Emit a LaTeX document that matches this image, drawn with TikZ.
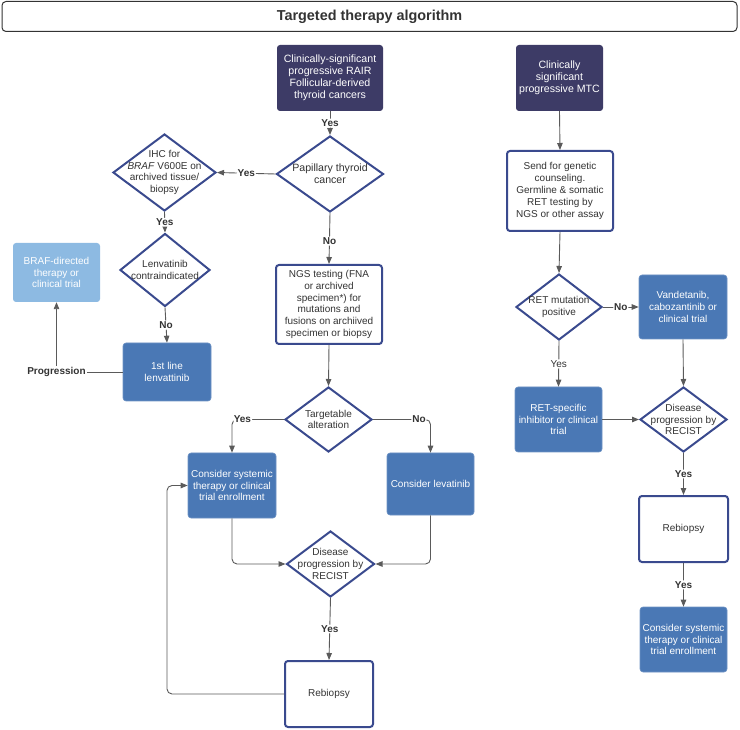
\documentclass[tikz,border=0pt]{standalone}
\usepackage{fontspec}
\setmainfont{Liberation Sans}
\usetikzlibrary{shapes.geometric,arrows.meta}
\definecolor{navy}{HTML}{3D3B66}
\definecolor{midblue}{HTML}{4A78B5}
\definecolor{lightblue}{HTML}{8DBAE2}
\definecolor{borderblue}{HTML}{3A4A8E}
\definecolor{linegray}{HTML}{5A5A5A}
\definecolor{txtdark}{HTML}{333333}
\newcommand\nodefont{\fontsize{10}{11.8}\selectfont}
\newcommand\bigfont{\fontsize{10.6}{11.9}\selectfont}
\tikzset{
  base/.style={rectangle, rounded corners=3pt, inner sep=0pt, align=center, font=\nodefont},
  navybox/.style={base, fill=navy, text=white},
  bluebox/.style={base, fill=midblue, draw=midblue!80!white, line width=0.6pt, text=white},
  lightbox/.style={base, fill=lightblue, text=white},
  whitebox/.style={base, fill=white, draw=borderblue, line width=2pt, text=txtdark},
  dia/.style={diamond, draw=borderblue, line width=2pt, fill=white, inner sep=0pt},
  dtext/.style={align=center, font=\nodefont, text=txtdark, inner sep=0pt},
  conn/.style={draw=linegray, line width=0.9pt, -{Triangle[length=7pt,width=5.5pt]}, rounded corners=5pt},
  lbl/.style={fill=white, inner sep=1pt, text=txtdark, font=\nodefont\bfseries},
  lblr/.style={fill=white, inner sep=1pt, text=txtdark, font=\nodefont},
}
\begin{document}
\begin{tikzpicture}[x=1pt,y=-1pt]
\useasboundingbox (0,0) rectangle (740,730);
% title
\node[draw=txtdark, line width=1pt, rounded corners=4pt, minimum width=735pt, minimum height=30pt, inner sep=0pt, font=\fontsize{14.4}{16}\selectfont\bfseries, text=txtdark] (title) at (369.5,16.5) {Targeted therapy algorithm};

% left / center column
\node[navybox, minimum width=106pt, minimum height=66pt, font=\bigfont] (top) at (330,78) {Clinically-significant\\progressive RAIR\\Follicular-derived\\thyroid cancers};
\node[dia, minimum width=107pt, minimum height=76pt] (pap) at (330,174) {};
\node[dtext, font=\bigfont] at (pap) {Papillary thyroid\\cancer};
\node[dia, minimum width=103pt, minimum height=77pt] (ihc) at (164.5,172.5) {};
\node[dtext] at (ihc) {IHC for\\\textit{BRAF} V600E on\\archived tissue/\\biopsy};
\node[dia, minimum width=90pt, minimum height=73pt] (len) at (165,270) {};
\node[dtext] at (len) {Lenvatinib\\contraindicated};
\node[bluebox, minimum width=88pt, minimum height=58pt] (lenv) at (167,372) {1st line\\lenvattinib};
\node[lightbox, minimum width=87pt, minimum height=59pt] (braf) at (56.5,272.5) {BRAF-directed\\therapy or\\clinical trial};
\node[whitebox, minimum width=106pt, minimum height=79pt] (ngs) at (329,304.5) {NGS testing (FNA\\or archived\\specimen*) for\\mutations and\\fusions on archiived\\specimen or biopsy};
\node[dia, minimum width=87pt, minimum height=65pt] (tgt) at (328.5,419.5) {};
\node[dtext] at (tgt) {Targetable\\alteration};
\node[bluebox, minimum width=88pt, minimum height=65pt] (sys) at (232,485.5) {Consider systemic\\therapy or clinical\\trial enrollment};
\node[bluebox, minimum width=87pt, minimum height=62pt] (lev) at (430.5,484) {Consider levatinib};
\node[dia, minimum width=88pt, minimum height=66pt] (dis) at (330.5,564) {};
\node[dtext] at (dis) {Disease\\progression by\\RECIST};
\node[whitebox, minimum width=88pt, minimum height=66pt] (reb) at (329,694) {Rebiopsy};

% right column
\node[navybox, minimum width=87pt, minimum height=66pt, font=\bigfont] (mtc) at (559.5,78) {Clinically\\significant\\progressive MTC};
\node[whitebox, minimum width=106pt, minimum height=80pt] (send) at (560,191) {Send for genetic\\counseling.\\Germline \& somatic\\RET testing by\\NGS or other assay};
\node[dia, minimum width=86pt, minimum height=66pt] (ret) at (559,307) {};
\node[dtext] at (ret) {RET mutation\\positive};
\node[bluebox, minimum width=88pt, minimum height=64pt] (van) at (683,307) {Vandetanib,\\cabozantinib or\\clinical trial};
\node[bluebox, minimum width=87pt, minimum height=65pt] (rets) at (558.5,419.5) {RET-specific\\inhibitor or clinical\\trial};
\node[dia, minimum width=87pt, minimum height=65pt] (dis2) at (683.5,419.5) {};
\node[dtext] at (dis2) {Disease\\progression by\\RECIST};
\node[whitebox, minimum width=89pt, minimum height=66pt] (reb2) at (683.5,529) {Rebiopsy};
\node[bluebox, minimum width=87pt, minimum height=65pt] (con2) at (683.5,639.5) {Consider systemic\\therapy or clinical\\trial enrollment};

% connectors left/center
\draw[conn] (top.south) -- node[lbl] {Yes} (pap.north);
\draw[conn] (pap.west) -- node[lbl] {Yes} (ihc.east);
\draw[conn] (ihc.south) -- node[lbl] {Yes} (len.north);
\draw[conn] (len.south) -- node[lbl] {No} (lenv.north);
\draw[conn, rounded corners=0pt] (lenv.west) -| node[lbl, pos=0.5] {Progression} (braf.south);
\draw[conn] (pap.south) -- node[lbl, pos=0.55] {No} (ngs.north);
\draw[conn] (ngs.south) -- (tgt.north);
\draw[conn] (tgt.west) -| node[lbl, pos=0.4] {Yes} (sys.north);
\draw[conn] (tgt.east) -| node[lbl, pos=0.4] {No} (lev.north);
\draw[conn] (sys.south) |- (dis.west);
\draw[conn] (lev.south) |- (dis.east);
\draw[conn] (dis.south) -- node[lbl] {Yes} (reb.north);
\coordinate (lp) at (167,485.5);
\draw[conn] (reb.west) -| (lp) -- (sys.west);

% connectors right
\draw[conn] (mtc.south) -- (send.north);
\draw[conn] (send.south) -- (ret.north);
\draw[conn] (ret.east) -- node[lbl] {No} (van.west);
\draw[conn] (ret.south) -- node[lblr] {Yes} (rets.north);
\draw[conn] (rets.east) -- (dis2.west);
\draw[conn] (van.south) -- (dis2.north);
\draw[conn] (dis2.south) -- node[lbl] {Yes} (reb2.north);
\draw[conn] (reb2.south) -- node[lbl] {Yes} (con2.north);
\end{tikzpicture}
\end{document}
